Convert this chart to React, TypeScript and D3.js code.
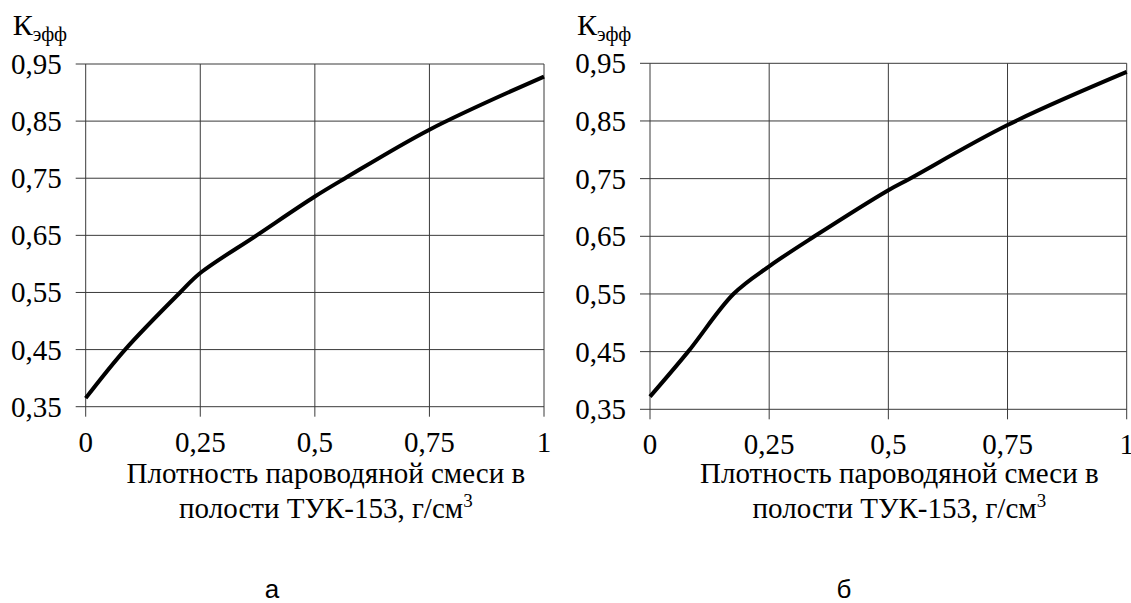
import React, { useEffect, useRef } from "react";
import * as d3 from "d3";

const xTicks = [0, 0.25, 0.5, 0.75, 1];
const xTickLabels = ["0", "0,25", "0,5", "0,75", "1"];
const yTicks = [0.35, 0.45, 0.55, 0.65, 0.75, 0.85, 0.95];
const yTickLabels = ["0,35", "0,45", "0,55", "0,65", "0,75", "0,85", "0,95"];

const densityA = [0, 0.086, 0.206, 0.25, 0.373, 0.5, 0.566, 0.75, 1];
const keffA = [0.365, 0.45, 0.55, 0.584, 0.65, 0.718, 0.75, 0.835, 0.928];

const densityB = [0, 0.08, 0.175, 0.25, 0.345, 0.5, 0.545, 0.75, 1];
const keffB = [0.372, 0.45, 0.55, 0.598, 0.65, 0.73, 0.75, 0.843, 0.935];

const panelLabels = ["а", "б"];
const titleLine1 = "Плотность пароводяной смеси в";
const titleLine2 = "полости ТУК-153, г/см";

const GRID = "#3a3a3a";
const FAM = "Times New Roman";

const panels = [
  { left: 85.7, right: 544, top: 64, bottom: 406.7, xs: densityA, ys: keffA, label: panelLabels[0], labelX: 272 },
  { left: 650, right: 1126.7, top: 63.3, bottom: 409.3, xs: densityB, ys: keffB, label: panelLabels[1], labelX: 844 },
];

export default function App() {
  const ref = useRef<SVGSVGElement | null>(null);

  useEffect(() => {
    const svg = d3.select(ref.current);
    svg.selectAll("*").remove();
    panels.forEach((p) => {
      const x = d3.scaleLinear().domain([0, 1]).range([p.left, p.right]);
      const y = d3.scaleLinear().domain([0.35, 0.95]).range([p.bottom, p.top]);
      const g = svg.append("g");
      g.selectAll("line.h")
        .data(yTicks)
        .enter()
        .append("line")
        .attr("x1", p.left - 10)
        .attr("x2", p.right)
        .attr("y1", (d) => y(d))
        .attr("y2", (d) => y(d))
        .attr("stroke", GRID)
        .attr("stroke-width", 1);
      g.selectAll("line.v")
        .data(xTicks)
        .enter()
        .append("line")
        .attr("x1", (d) => x(d))
        .attr("x2", (d) => x(d))
        .attr("y1", p.top)
        .attr("y2", p.bottom + 10)
        .attr("stroke", GRID)
        .attr("stroke-width", 1);
      const pts: [number, number][] = p.xs.map((v, i) => [v, p.ys[i]]);
      const line = d3
        .line<[number, number]>()
        .x((d) => x(d[0]))
        .y((d) => y(d[1]))
        .curve(d3.curveCatmullRom.alpha(0.5));
      g.append("path")
        .attr("d", line(pts) || "")
        .attr("fill", "none")
        .attr("stroke", "#000")
        .attr("stroke-width", 4);
      g.selectAll("text.yt")
        .data(yTicks)
        .enter()
        .append("text")
        .attr("x", p.left - 24)
        .attr("y", (d) => y(d) + 10)
        .attr("text-anchor", "end")
        .style("font-family", FAM)
        .style("font-size", "29px")
        .text((d, i) => yTickLabels[i]);
      g.selectAll("text.xt")
        .data(xTicks)
        .enter()
        .append("text")
        .attr("x", (d) => x(d))
        .attr("y", p.bottom + 45)
        .attr("text-anchor", "middle")
        .style("font-family", FAM)
        .style("font-size", "29px")
        .text((d, i) => xTickLabels[i]);
      const k = g
        .append("text")
        .attr("x", p.left - 73)
        .attr("y", 35)
        .style("font-family", FAM)
        .style("font-size", "30px");
      k.append("tspan").text("К");
      k.append("tspan").attr("dy", 6).style("font-size", "20px").text("эфф");
      const cx = (p.left + p.right) / 2 + 11;
      g.append("text")
        .attr("x", cx)
        .attr("y", 483)
        .attr("text-anchor", "middle")
        .style("font-family", FAM)
        .style("font-size", "29px")
        .text(titleLine1);
      const t2 = g
        .append("text")
        .attr("x", cx)
        .attr("y", 518)
        .attr("text-anchor", "middle")
        .style("font-family", FAM)
        .style("font-size", "29px");
      t2.append("tspan").text(titleLine2);
      t2.append("tspan").attr("dy", -11).style("font-size", "19px").text("3");
      g.append("text")
        .attr("x", p.labelX)
        .attr("y", 598)
        .attr("text-anchor", "middle")
        .style("font-family", "Liberation Sans")
        .style("font-size", "26px")
        .text(p.label);
    });
  }, []);

  return (
    <svg
      ref={ref}
      width={1131}
      height={603}
      style={{ position: "absolute", left: 0, top: 0, fontFamily: FAM }}
    />
  );
}
